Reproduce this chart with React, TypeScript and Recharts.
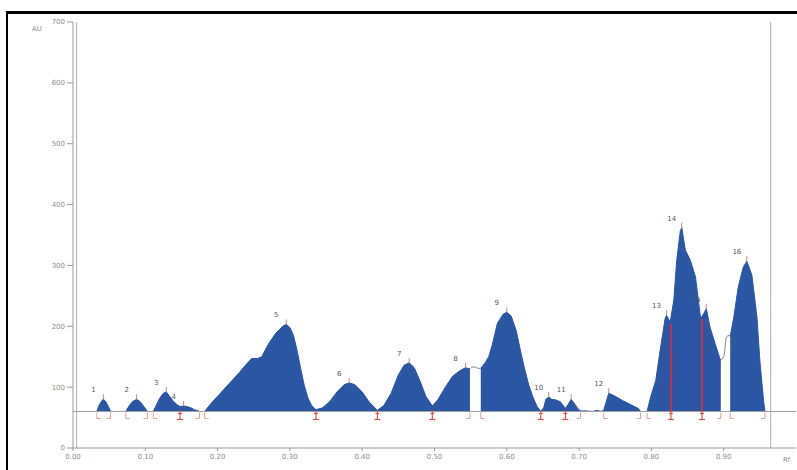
import React from "react";
import {
  ComposedChart,
  Area,
  Line,
  Scatter,
  XAxis,
  YAxis,
  ReferenceLine,
} from "recharts";

// densitogram profile (Rf vs AU)
const rf = [
  0, 0.033, 0.036, 0.04, 0.042, 0.045, 0.049, 0.052, 0.073, 0.077, 0.082, 0.088,
  0.093, 0.098, 0.103, 0.111, 0.115, 0.12, 0.125, 0.129, 0.133, 0.138, 0.143,
  0.148, 0.153, 0.158, 0.163, 0.168, 0.175, 0.182, 0.19, 0.2, 0.21, 0.22, 0.23,
  0.24, 0.247, 0.255, 0.261, 0.27, 0.28, 0.29, 0.295, 0.3, 0.305, 0.31, 0.315,
  0.32, 0.325, 0.33, 0.336, 0.345, 0.355, 0.365, 0.375, 0.382, 0.39, 0.4, 0.41,
  0.421, 0.43, 0.44, 0.45, 0.458, 0.465, 0.472, 0.48, 0.488, 0.497, 0.505, 0.515,
  0.525, 0.535, 0.543, 0.549, 0.552, 0.556, 0.56, 0.564, 0.57, 0.575, 0.58,
  0.587, 0.595, 0.6, 0.606, 0.613, 0.618, 0.624, 0.63, 0.636, 0.642, 0.647,
  0.651, 0.654, 0.658, 0.662, 0.668, 0.674, 0.681, 0.685, 0.689, 0.693, 0.698,
  0.702, 0.71, 0.718, 0.725, 0.73, 0.734, 0.741, 0.75, 0.76, 0.77, 0.782, 0.785,
  0.794, 0.799, 0.806, 0.812, 0.819, 0.821, 0.826, 0.831, 0.835, 0.84, 0.842,
  0.847, 0.854, 0.861, 0.868, 0.872, 0.876, 0.881, 0.888, 0.895, 0.896, 0.9,
  0.904, 0.908, 0.909, 0.914, 0.92, 0.927, 0.932, 0.939, 0.946, 0.95, 0.955,
  0.957, 0.965, 1.0,
];
const au = [
  60, 60, 70, 78, 80, 77, 68, 60, 60, 68, 76, 80,
  76, 68, 60, 60, 70, 82, 90, 92, 86, 78, 72,
  68, 69, 68, 66, 63, 60, 60, 72, 85, 98, 111, 124,
  138, 147, 147, 150, 170, 188, 200, 203, 198, 185, 160, 130,
  102, 82, 70, 63, 66, 76, 92, 104, 107, 104, 92, 75,
  62, 70, 90, 120, 136, 140, 132, 110, 85, 69, 80, 100,
  118, 127, 132, 130, 133, 133, 131, 131, 140, 150, 170,
  205, 220, 223, 217, 193, 165, 133, 105, 84, 68, 60,
  66, 80, 84, 80, 79, 76, 65, 72, 80, 74, 65,
  61, 61, 60, 62, 60, 62, 90, 85, 78, 72, 65, 60,
  60, 84, 111, 160, 213, 218, 207, 243, 308, 357, 362,
  325, 308, 281, 213, 220, 229, 199, 172, 146, 145, 150,
  183, 185, 183, 215, 264, 297, 307, 284, 215, 144, 79,
  60, 60, 60,
];
// unfilled (white) slices of the track, only the outline is drawn
const gapFrom = [0.549, 0.896];
const gapTo = [0.564, 0.909];

const peakNo = ["1", "2", "3", "4", "5", "6", "7", "8", "9", "10", "11", "12", "13", "14", "15", "16"];
const peakRf = [0.042, 0.088, 0.129, 0.153, 0.295, 0.382, 0.465, 0.543, 0.6, 0.658, 0.689, 0.741, 0.821, 0.842, 0.876, 0.932];
const peakAu = [80, 80, 92, 69, 203, 107, 140, 132, 223, 84, 80, 90, 218, 362, 229, 307];

const splitRf = [0.148, 0.336, 0.421, 0.497, 0.647, 0.681, 0.827, 0.87];
const startRf = [0.033, 0.073, 0.111, 0.182, 0.564, 0.734, 0.794, 0.909];
const endRf = [0.052, 0.103, 0.175, 0.549, 0.702, 0.785, 0.896, 0.957];
const cutLines = [
  { rf: 0.827, top: 204 },
  { rf: 0.87, top: 212 },
];

const baseline = 60;
const xTicks = [0, 0.1, 0.2, 0.3, 0.4, 0.5, 0.6, 0.7, 0.8, 0.9];
const yTicks = [0, 100, 200, 300, 400, 500, 600, 700];

const inGap = (x: number, strict: boolean) =>
  gapFrom.some((a, i) => (strict ? x > a && x < gapTo[i] : x >= a && x <= gapTo[i]));

const data = rf.map((x, i) => ({
  rf: x,
  fill: inGap(x, true) ? null : au[i],
  outline: inGap(x, false) ? au[i] : null,
}));

const peaks = peakRf.map((x, i) => ({ rf: x, au: peakAu[i], no: peakNo[i] }));
const splits = splitRf.map((x) => ({ rf: x, au: baseline }));
const starts = startRf.map((x) => ({ rf: x, au: baseline }));
const ends = endRf.map((x) => ({ rf: x, au: baseline }));

const tickFont = { fontSize: 7, fill: "#8c8c8c", fontFamily: "DejaVu Sans" };

const PeakMark = (p: any) => (
  <g>
    <line x1={p.cx} y1={p.cy - 5} x2={p.cx} y2={p.cy} stroke="#c98a80" strokeWidth={1} />
    <text x={p.cx - 10} y={p.cy - 7} fontSize={7} fill="#555" fontFamily="DejaVu Sans" textAnchor="middle">
      {p.payload.no}
    </text>
  </g>
);

const SplitMark = (p: any) => (
  <g stroke="#d0584a" strokeWidth={1.2}>
    <line x1={p.cx} y1={p.cy - 1} x2={p.cx} y2={p.cy + 8} />
    <line x1={p.cx - 3} y1={p.cy + 8} x2={p.cx + 3} y2={p.cy + 8} />
    <line x1={p.cx - 2} y1={p.cy + 2} x2={p.cx + 2} y2={p.cy + 2} />
  </g>
);

const StartMark = (p: any) => (
  <polyline points={`${p.cx},${p.cy + 1} ${p.cx},${p.cy + 7} ${p.cx + 4},${p.cy + 7}`} fill="none" stroke="#d8a496" strokeWidth={1} />
);

const EndMark = (p: any) => (
  <polyline points={`${p.cx},${p.cy + 1} ${p.cx},${p.cy + 7} ${p.cx - 4},${p.cy + 7}`} fill="none" stroke="#d8a496" strokeWidth={1} />
);

const App = () => {
  return (
    <div style={{ position: "absolute", left: 0, top: 0, width: 797, height: 470, background: "#fff" }}>
      <div style={{ position: "absolute", left: 6, top: 11, width: 791, height: 3, background: "#000" }} />
      <div style={{ position: "absolute", left: 6, top: 11, width: 2, height: 459, background: "#000" }} />
      <div style={{ position: "absolute", left: 32, top: 25, fontSize: 7, color: "#8c8c8c", fontFamily: "DejaVu Sans" }}>AU</div>
      <div style={{ position: "absolute", left: 783, top: 456, fontSize: 7, color: "#8c8c8c", fontFamily: "DejaVu Sans" }}>Rf</div>
      <ComposedChart
        width={797}
        height={470}
        data={data}
        margin={{ top: 22, right: 1, left: 0, bottom: 0 }}
      >
        <XAxis
          dataKey="rf"
          type="number"
          domain={[0, 1]}
          ticks={xTicks}
          tickFormatter={(v: number) => v.toFixed(2)}
          height={22}
          tick={tickFont}
          tickSize={3}
          tickMargin={3}
          stroke="#9a9a9a"
          allowDataOverflow
        />
        <YAxis
          type="number"
          domain={[0, 700]}
          ticks={yTicks}
          width={73}
          tick={tickFont}
          tickSize={6}
          tickMargin={2}
          stroke="#9a9a9a"
        />
        <ReferenceLine x={0.005} stroke="#b0b0b0" strokeWidth={1} />
        <ReferenceLine x={0.965} stroke="#b0b0b0" strokeWidth={1} />
        <Area
          type="linear"
          dataKey="fill"
          baseValue={baseline}
          fill="#2a56a3"
          fillOpacity={1}
          stroke="#2a56a3"
          strokeWidth={1}
          connectNulls={false}
          isAnimationActive={false}
        />
        <Line
          type="monotone"
          dataKey="outline"
          stroke="#7d8797"
          strokeWidth={1}
          dot={false}
          connectNulls={false}
          isAnimationActive={false}
        />
        <ReferenceLine y={baseline} stroke="#a0a0a0" strokeWidth={1} />
        {cutLines.map((c) => (
          <ReferenceLine
            key={c.rf}
            segment={[
              { x: c.rf, y: baseline },
              { x: c.rf, y: c.top },
            ]}
            stroke="#c0334a"
            strokeWidth={2}
          />
        ))}
        <Scatter data={peaks} dataKey="au" shape={PeakMark} isAnimationActive={false} />
        <Scatter data={splits} dataKey="au" shape={SplitMark} isAnimationActive={false} />
        <Scatter data={starts} dataKey="au" shape={StartMark} isAnimationActive={false} />
        <Scatter data={ends} dataKey="au" shape={EndMark} isAnimationActive={false} />
      </ComposedChart>
    </div>
  );
};

export default App;
